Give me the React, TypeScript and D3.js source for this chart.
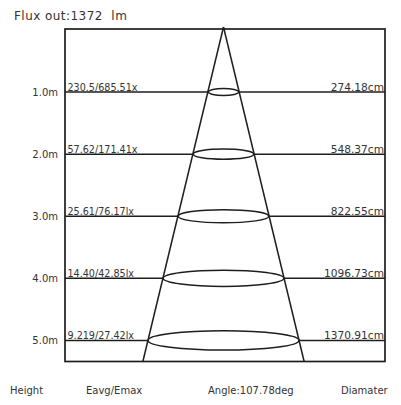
import React from "react";
import * as d3 from "d3";

const heights = [1, 2, 3, 4, 5];
const heightLabels = ["1.0m", "2.0m", "3.0m", "4.0m", "5.0m"];
const eavgLabels = ["230.5/685.51x", "57.62/171.41x", "25.61/76.17lx", "14.40/42.85lx", "9.219/27.42lx"];
const diameters = [274.18, 548.37, 822.55, 1096.73, 1370.91];
const diameterLabels = ["274.18cm", "548.37cm", "822.55cm", "1096.73cm", "1370.91cm"];
const fluxText = "Flux out:1372  lm";
const footerLabels = ["Height", "Eavg/Emax", "Angle:107.78deg", "Diamater"];

const W = 401;
const H = 405;
const left = 65;
const right = 385;
const top = 29;
const bottom = 361.5;
const cx = 223.5;
const maxH = 5.34;

export default function App() {
  const y = d3.scaleLinear().domain([0, maxH]).range([top + 1, bottom]);
  const r = d3.scaleLinear().domain([0, diameters[4] / 2]).range([0, 75.5]);
  const ry = d3.scaleLinear().domain([0, 5]).range([2, 9.6]);
  const radAt = (h: number) => r((diameters[4] / 2) * (h / 5));
  const font = "'DejaVu Sans', Verdana, sans-serif";
  const stroke = "#1e1e1e";
  const text = "#333";
  const footerX = [10, 86, 208, 341];

  return (
    <svg width={W} height={H} style={{ position: "absolute", left: 0, top: 0, background: "#fff" }}>
      <text x={14} y={20} fontFamily={font} fontSize={12} letterSpacing={0.45} fill={text} style={{ whiteSpace: "pre" }}>
        {fluxText}
      </text>
      <rect x={left} y={top} width={right - left} height={bottom - top} fill="none" stroke={stroke} strokeWidth={1.7} />
      {heights.map((h, i) => {
        const yy = y(h);
        const rx = r(diameters[i] / 2);
        return (
          <g key={i}>
            <line x1={left} x2={cx - rx} y1={yy} y2={yy} stroke={stroke} strokeWidth={1.5} />
            <line x1={cx + rx} x2={right} y1={yy} y2={yy} stroke={stroke} strokeWidth={1.5} />
            <ellipse cx={cx} cy={yy} rx={rx} ry={ry(h)} fill="none" stroke={stroke} strokeWidth={1.5} />
            <text x={58} y={yy + 3.5} textAnchor="end" fontFamily={font} fontSize={10} fill={text}>
              {heightLabels[i]}
            </text>
            <text x={67.5} y={yy - 1.5} fontFamily={font} fontSize={9.6} fill={text}>
              {eavgLabels[i]}
            </text>
            <text x={384} y={yy - 1.5} textAnchor="end" fontFamily={font} fontSize={10.6} fill={text}>
              {diameterLabels[i]}
            </text>
          </g>
        );
      })}
      <line x1={cx} y1={top - 2} x2={cx - radAt(maxH)} y2={bottom} stroke={stroke} strokeWidth={1.5} />
      <line x1={cx} y1={top - 2} x2={cx + radAt(maxH)} y2={bottom} stroke={stroke} strokeWidth={1.5} />
      {footerLabels.map((t, i) => (
        <text key={i} x={footerX[i]} y={393.5} fontFamily={font} fontSize={10} fill={text}>
          {t}
        </text>
      ))}
    </svg>
  );
}
